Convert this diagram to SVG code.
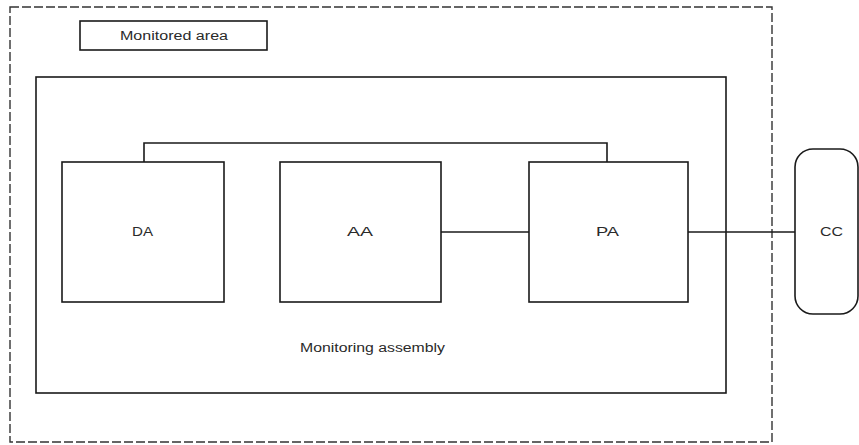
<svg xmlns="http://www.w3.org/2000/svg" width="859" height="445" viewBox="0 0 859 445">
<style>
.box{fill:#fff;stroke:#1a1a1a;stroke-width:1.6}
.line{fill:none;stroke:#1a1a1a;stroke-width:1.6}
.dash{fill:none;stroke:#333;stroke-width:1.4;stroke-dasharray:9,3}
text{font-family:"Liberation Sans",Arial,sans-serif;font-size:12px;fill:#2a2a2a;text-anchor:middle;dominant-baseline:central}
</style>
<rect width="859" height="445" fill="#fff"/>
<g id="monitored-area">
<rect class="dash" x="10" y="7" width="762" height="435"/>
<rect class="box" x="80" y="21" width="187" height="29"/>
<text x="174" y="36" textLength="108" lengthAdjust="spacingAndGlyphs">Monitored area</text>
</g>
<g id="monitoring-assembly">
<rect class="box" x="36" y="77" width="690" height="316"/>
<text x="372.5" y="348" textLength="145" lengthAdjust="spacingAndGlyphs">Monitoring assembly</text>
</g>
<g id="connectors">
<polyline class="line" points="144,162 144,143 607,143 607,162"/>
<line class="line" x1="441" y1="232" x2="529" y2="232"/>
<line class="line" x1="688" y1="232" x2="795" y2="232"/>
</g>
<g id="DA">
<rect class="box" x="62" y="162" width="162" height="140"/>
<text x="142.5" y="232" textLength="21" lengthAdjust="spacingAndGlyphs">DA</text>
</g>
<g id="AA">
<rect class="box" x="280" y="162" width="161" height="140"/>
<text x="360" y="232" textLength="26" lengthAdjust="spacingAndGlyphs">AA</text>
</g>
<g id="PA">
<rect class="box" x="529" y="162" width="159" height="140"/>
<text x="607.5" y="232" textLength="23" lengthAdjust="spacingAndGlyphs">PA</text>
</g>
<g id="CC">
<rect class="box" x="795" y="149" width="63" height="165" rx="18" ry="18"/>
<text x="831.5" y="232" textLength="23" lengthAdjust="spacingAndGlyphs">CC</text>
</g>
</svg>
